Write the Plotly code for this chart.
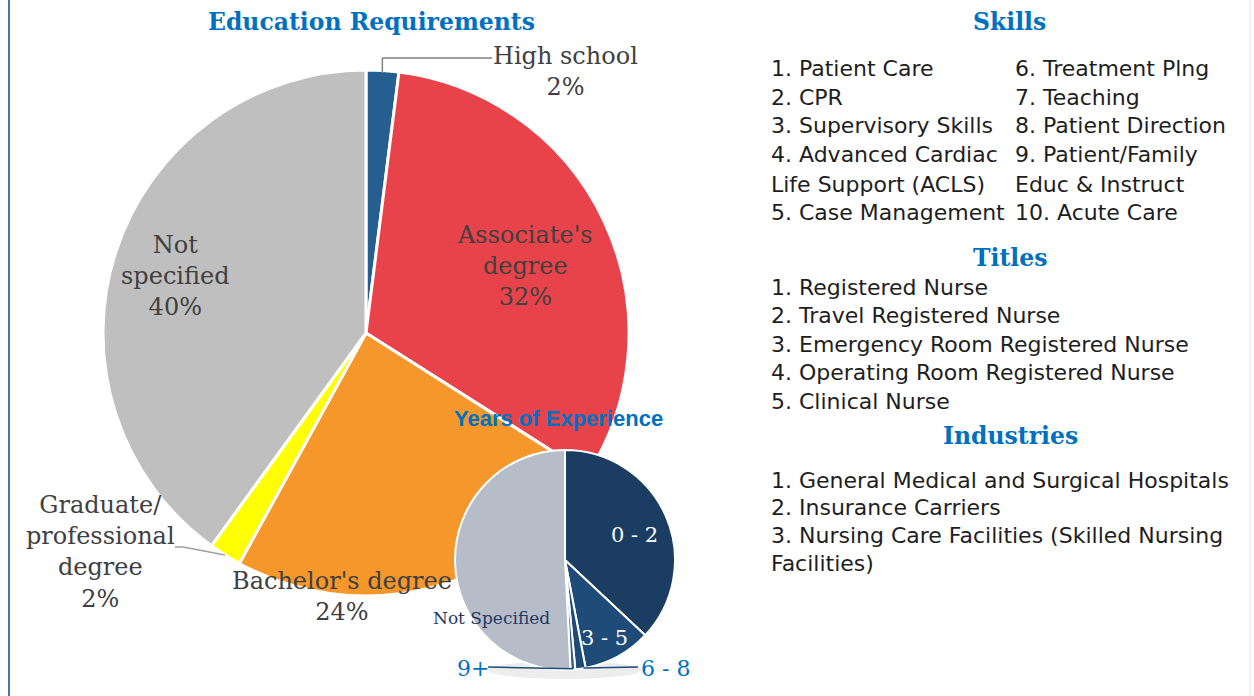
import math
import plotly.graph_objects as go

W, H = 1254, 696

# ---------------- data ----------------
edu_labels = ["High school", "Associate's degree", "Bachelor's degree",
              "Graduate/professional degree", "Not specified"]
edu_values = [2, 32, 24, 2, 40]
edu_colors = ["#255e91", "#e8434a", "#f5972a", "#ffff00", "#bfbfbf"]
edu_display = ["High school", "Associate's<br>degree", "Bachelor's degree",
               "Graduate/<br>professional<br>degree", "Not<br>specified"]

exp_labels = ["0 - 2", "3 - 5", "6 - 8", "9+", "Not Specified"]
exp_values = [37, 10, 1.5, 0.7, 50.8]
exp_colors = ["#1b3d62", "#1f4b78", "#1f4b78", "#2e5f8f", "#b6bcc8"]

skills_col1 = ["1. Patient Care", "2. CPR", "3. Supervisory Skills",
               "4. Advanced Cardiac", "Life Support (ACLS)", "5. Case Management"]
skills_col2 = ["6. Treatment Plng", "7. Teaching", "8. Patient Direction",
               "9. Patient/Family", "Educ & Instruct", "10. Acute Care"]
titles_list = ["1. Registered Nurse", "2. Travel Registered Nurse",
               "3. Emergency Room Registered Nurse",
               "4. Operating Room Registered Nurse", "5. Clinical Nurse"]
industries_list = ["1. General Medical and Surgical Hospitals",
                   "2. Insurance Carriers",
                   "3. Nursing Care Facilities (Skilled Nursing",
                   "Facilities)"]

# ---------------- layout geometry (pixels) ----------------
BIG = dict(cx=366, cy=333, r=263)
SMALL = dict(cx=565, cy=560, r=110)


def px(x):
    return x / W


def py(y):
    return 1 - y / H


def domain(g):
    return dict(x=[px(g["cx"] - g["r"]), px(g["cx"] + g["r"])],
                y=[py(g["cy"] + g["r"]), py(g["cy"] - g["r"])])


def slice_point(g, values, idx, rfrac=1.0):
    total = sum(values)
    mid = (sum(values[:idx]) + values[idx] / 2) / total * 2 * math.pi
    return (g["cx"] + g["r"] * rfrac * math.sin(mid),
            g["cy"] - g["r"] * rfrac * math.cos(mid))


SERIF = "DejaVu Serif"
SANS = "DejaVu Sans"
BLUE = "#0070c0"
GREY_TXT = "#404040"

fig = go.Figure()
fig.add_trace(go.Pie(
    labels=edu_labels, values=edu_values, sort=False, direction="clockwise",
    rotation=0, marker=dict(colors=edu_colors, line=dict(color="white", width=3)),
    textinfo="none", hoverinfo="skip", domain=domain(BIG), showlegend=False))
fig.add_trace(go.Pie(
    labels=exp_labels, values=exp_values, sort=False, direction="clockwise",
    rotation=0, marker=dict(colors=exp_colors, line=dict(color="white", width=2)),
    textinfo="none", hoverinfo="skip", domain=domain(SMALL), showlegend=False))

ann = []
shapes = []


def text(x, y, t, size, color, family, xanchor="center", bold=False, yanchor="middle"):
    ann.append(dict(x=px(x), y=py(y), xref="paper", yref="paper",
                    text=f"<b>{t}</b>" if bold else t, showarrow=False,
                    xanchor=xanchor, yanchor=yanchor,
                    font=dict(size=size, color=color, family=family)))


def seg(p0, p1, color, width=1.5):
    shapes.append(dict(type="line", xref="paper", yref="paper",
                       x0=px(p0[0]), y0=py(p0[1]), x1=px(p1[0]), y1=py(p1[1]),
                       line=dict(color=color, width=width)))


# soft shadow under the small pie
shapes.append(dict(type="circle", xref="paper", yref="paper", layer="below",
                   x0=px(488), x1=px(642), y0=py(679), y1=py(661),
                   fillcolor="rgba(0,0,0,0.07)", line=dict(width=0)))

# titles
text(371, 22, "Education Requirements", 23.5, BLUE, SERIF, bold=True)
text(558, 418, "Years of Experience", 22, BLUE, "Liberation Sans", bold=True)

# education labels
edu_label_pos = [(565, 71), (525, 266), (342, 596), (100, 552), (175, 276)]
for i, (lab, v) in enumerate(zip(edu_display, edu_values)):
    x, y = edu_label_pos[i]
    text(x, y, f"{lab}<br>{v}%", 24, GREY_TXT, SERIF)

# leader lines: High school
hx, hy = slice_point(BIG, edu_values, 0, 0.99)
seg((hx, hy), (hx, 58), "#808080")
seg((hx, 58), (492, 58), "#808080")
# Graduate
gx, gy = slice_point(BIG, edu_values, 3, 1.0)
seg((gx, gy), (183, 547), "#a0a0a0")
seg((183, 547), (175, 547), "#a0a0a0")

# experience labels
exp_label_pos = [(634, 535), (604, 638), (665, 668), (473, 668), (491, 618)]
exp_label_col = ["white", "white", BLUE, BLUE, "#1f3864"]
exp_label_size = [21, 21, 22, 22, 17]
for i, lab in enumerate(exp_labels):
    x, y = exp_label_pos[i]
    text(x, y, lab, exp_label_size[i], exp_label_col[i], SERIF)

p68 = slice_point(SMALL, exp_values, 2, 1.0)
seg((p68[0] + 3, p68[1] - 1), (638, 667), "#1f4b78", 1.5)
p9 = slice_point(SMALL, exp_values, 3, 1.0)
seg((p9[0], p9[1] - 1), (488, 667), "#1f4b78", 1.5)

# right panel
TXT = "#1e1e1e"
FS = 22
text(1009, 22, "Skills", 23.5, BLUE, SERIF, bold=True)
for i, t in enumerate(skills_col1):
    text(769, 68 + i * 29, t, FS, TXT, SANS, xanchor="left")
for i, t in enumerate(skills_col2):
    text(1013, 68 + i * 29, t, FS, TXT, SANS, xanchor="left")
text(1010, 258, "Titles", 23.5, BLUE, SERIF, bold=True)
for i, t in enumerate(titles_list):
    text(769, 287 + i * 28.6, t, FS, TXT, SANS, xanchor="left")
text(1010, 436, "Industries", 23.5, BLUE, SERIF, bold=True)
for i, t in enumerate(industries_list):
    text(769, 480 + i * 27.8, t, FS, TXT, SANS, xanchor="left")

# frame lines
shapes.append(dict(type="line", xref="paper", yref="paper", x0=px(9), x1=px(9),
                   y0=0, y1=1, line=dict(color="#4f74a3", width=2)))
shapes.append(dict(type="line", xref="paper", yref="paper", x0=px(1250), x1=px(1250),
                   y0=0, y1=1, line=dict(color="#e6e6e6", width=1)))

fig.update_layout(width=W, height=H, autosize=False,
                  margin=dict(l=0, r=0, t=0, b=0),
                  paper_bgcolor="white", plot_bgcolor="white",
                  annotations=ann, shapes=shapes)
fig.write_html("out.html", config={"displayModeBar": False},
               post_script="document.body.style.margin='0px';"
                           "document.body.style.overflow='hidden';")
